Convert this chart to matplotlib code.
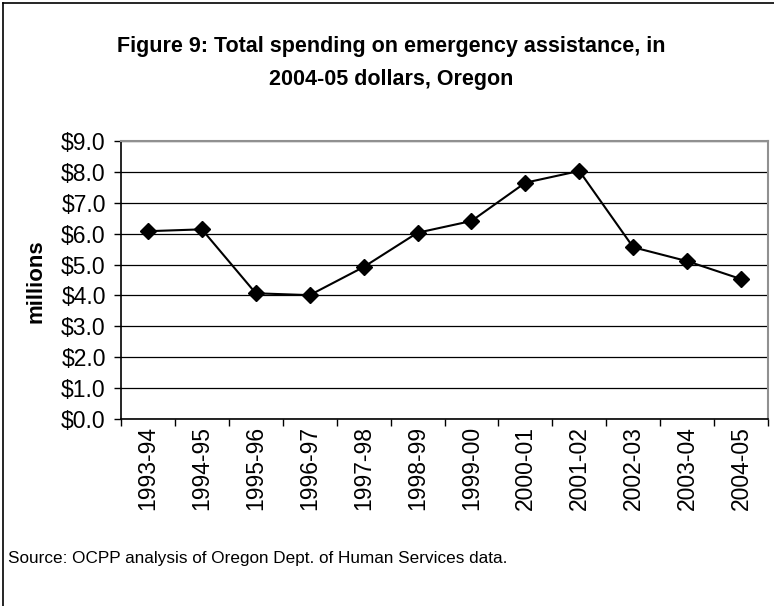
import matplotlib
matplotlib.use("Agg")
import matplotlib.pyplot as plt
from matplotlib.lines import Line2D
from matplotlib.ticker import FuncFormatter, MultipleLocator

plt.rcParams["font.family"] = ["Liberation Sans", "DejaVu Sans"]

# fiscal years and total emergency assistance spending (millions, 2004-05 dollars)
years = ["1993-94", "1994-95", "1995-96", "1996-97", "1997-98", "1998-99",
         "1999-00", "2000-01", "2001-02", "2002-03", "2003-04", "2004-05"]
spending = [6.08, 6.14, 4.07, 4.01, 4.92, 6.03,
            6.41, 7.65, 8.03, 5.56, 5.11, 4.53]

W, H = 774, 606
fig = plt.figure(figsize=(W / 100, H / 100), dpi=100)
ax = fig.add_axes([121 / W, 1 - 419 / H, (768 - 121) / W, (419 - 141) / H])

xs = list(range(len(years)))
ax.plot(xs, spending, color="black", lw=1.5, marker="D", markersize=8,
        markerfacecolor="black", markeredgecolor="black")

ax.set_xlim(-0.5, len(years) - 0.5)
ax.set_ylim(0, 9)
ax.yaxis.set_major_locator(MultipleLocator(1.0))
ax.yaxis.set_major_formatter(FuncFormatter(lambda v, p: f"${v:.1f}"))
ax.grid(axis="y", color="black", lw=0.9)
ax.set_axisbelow(True)

# category labels centred, tick marks between categories
ax.set_xticks(xs)
ax.set_xticklabels(years, rotation=90, fontsize=16.5)
ax.tick_params(axis="x", which="major", length=0, pad=5)
ax.set_xticks([x - 0.5 for x in xs] + [len(years) - 0.5], minor=True)
ax.tick_params(axis="x", which="minor", length=5, width=1, direction="out")
ax.tick_params(axis="y", labelsize=16.5, length=5, width=1, direction="out", pad=6)

for side in ("top", "right"):
    ax.spines[side].set_color("#909090")
    ax.spines[side].set_linewidth(1.5)
for side in ("left", "bottom"):
    ax.spines[side].set_color("black")
    ax.spines[side].set_linewidth(1.2)

ax.set_ylabel("millions", fontsize=16, fontweight="bold")
ax.yaxis.set_label_coords((46 - 121) / (768 - 121), (419 - 281) / (419 - 141))

fig.text(391 / W, 1 - 63 / H,
         "Figure 9: Total spending on emergency assistance, in\n2004-05 dollars, Oregon",
         ha="center", va="center", fontsize=15.5, fontweight="bold",
         linespacing=1.7)
fig.text(8 / W, 1 - 558 / H,
         "Source: OCPP analysis of Oregon Dept. of Human Services data.",
         ha="left", va="center", fontsize=12.3)

# outer chart frame (left and top edges)
fig.add_artist(Line2D([3 / W, 3 / W], [0, 1 - 3 / H], transform=fig.transFigure,
                      color="black", lw=1.2))
fig.add_artist(Line2D([3 / W, 1], [1 - 3 / H, 1 - 3 / H], transform=fig.transFigure,
                      color="black", lw=1.2))

fig.savefig("out.png", dpi=100)
plt.close(fig)
